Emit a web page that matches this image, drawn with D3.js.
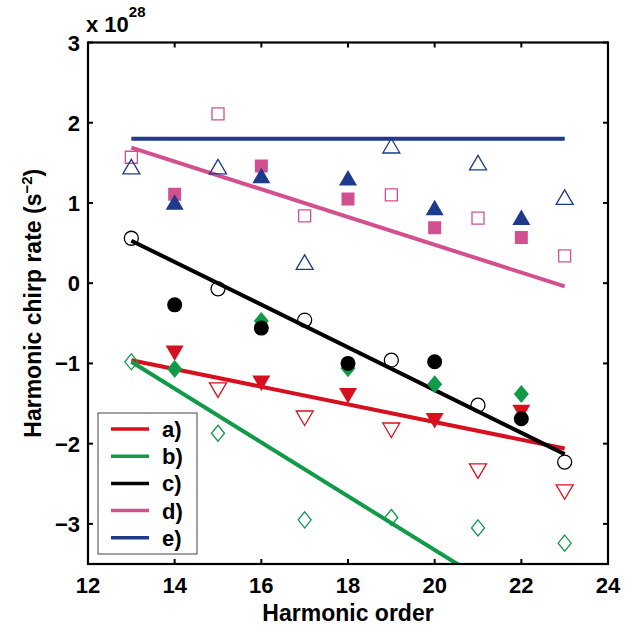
<!DOCTYPE html>
<html><head><meta charset="utf-8">
<script src="https://cdn.jsdelivr.net/npm/d3@7"></script>
<style>body{margin:0;background:#fff}svg{display:block;font-family:"Liberation Sans",Arial,Helvetica,sans-serif;font-weight:bold}</style>
</head><body><svg id="c" width="641" height="628"></svg>
<script>
// ---- data ----
const evenH = [14, 16, 18, 20, 22];
const oddH = [13, 15, 17, 19, 21, 23];
const lineX = [13, 23];
const xTicks = [12, 14, 16, 18, 20, 22, 24];
const yTicks = [-3, -2, -1, 0, 1, 2, 3];
const seriesNames = ["a)", "b)", "c)", "d)", "e)"];
const seriesColors = ["#d7101f", "#119a48", "#000000", "#d2508f", "#1d3a8c"];
const seriesShapes = ["down", "diamond", "circle", "square", "up"];
// filled markers at even harmonics (units of 1e28 s^-2)
const aFilled = [-0.87, -1.245, -1.40, -1.71, -1.61];
const bFilled = [-1.07, -0.47, -1.06, -1.26, -1.38];
const cFilled = [-0.27, -0.56, -1.00, -0.98, -1.69];
const dFilled = [1.11, 1.46, 1.05, 0.69, 0.57];
const eFilled = [1.01, 1.34, 1.31, 0.94, 0.82];
// open markers at odd harmonics
const aOpen = [null, -1.33, -1.68, -1.83, -2.34, -2.60];
const bOpen = [-0.98, -1.87, -2.95, -2.92, -3.05, -3.24];
const cOpen = [0.56, -0.07, -0.46, -0.96, -1.52, -2.23];
const dOpen = [1.57, 2.11, 0.84, 1.10, 0.81, 0.34];
const eOpen = [1.45, 1.45, 0.26, 1.71, 1.50, 1.07];
// fitted lines (value at harmonic 13 and 23)
const aLine = [-0.96, -2.06];
const bLine = [-0.98, -4.33];
const cLine = [0.53, -2.13];
const dLine = [1.69, -0.04];
const eLine = [1.80, 1.80];

const filled = [aFilled, bFilled, cFilled, dFilled, eFilled];
const open = [aOpen, bOpen, cOpen, dOpen, eOpen];
const lines = [aLine, bLine, cLine, dLine, eLine];

// ---- layout ----
const L = 88, R = 608, T = 42.5, B = 564;
const svg = d3.select("#c");
const x = d3.scaleLinear().domain([12, 24]).range([L, R]);
const y = d3.scaleLinear().domain([-3.5, 3]).range([B, T]);

svg.append("defs").append("clipPath").attr("id", "clip")
  .append("rect").attr("x", L).attr("y", T).attr("width", R - L).attr("height", B - T);

function shapePath(kind, filledM) {
  switch (kind) {
    case "up": return filledM ? "M0,-8L9,7.5L-9,7.5Z" : "M0,-7.5L8.5,7L-8.5,7Z";
    case "down": return filledM ? "M0,8L9,-7.5L-9,-7.5Z" : "M0,7.5L8.5,-7L-8.5,-7Z";
    case "diamond": return filledM ? "M0,-9L7.5,0L0,9L-7.5,0Z" : "M0,-8L6.5,0L0,8L-6.5,0Z";
    case "square": return filledM ? "M-6.5,-6.5H6.5V6.5H-6.5Z" : "M-6,-6H6V6H-6Z";
    case "circle": return filledM ? "M7.5,0A7.5,7.5 0 1,1 -7.5,0A7.5,7.5 0 1,1 7.5,0Z" : "M7,0A7,7 0 1,1 -7,0A7,7 0 1,1 7,0Z";
  }
}

const plot = svg.append("g").attr("clip-path", "url(#clip)");
const lineGen = d3.line().x(d => x(d[0])).y(d => y(d[1]));
lines.forEach((ln, i) => {
  plot.append("path").datum(lineX.map((h, k) => [h, ln[k]]))
    .attr("d", lineGen).attr("fill", "none")
    .attr("stroke", seriesColors[i]).attr("stroke-width", 4);
});
seriesNames.forEach((n, i) => {
  const g = plot.append("g");
  g.selectAll(".o").data(oddH.map((h, k) => [h, open[i][k]]).filter(d => d[1] !== null))
    .join("path").attr("transform", d => `translate(${x(d[0])},${y(d[1])})`)
    .attr("d", shapePath(seriesShapes[i], false)).attr("fill", "none")
    .attr("stroke", seriesColors[i]).attr("stroke-width", 1.3);
  g.selectAll(".f").data(evenH.map((h, k) => [h, filled[i][k]]))
    .join("path").attr("transform", d => `translate(${x(d[0])},${y(d[1])})`)
    .attr("d", shapePath(seriesShapes[i], true)).attr("fill", seriesColors[i])
    .attr("stroke", "none");
});

// ---- axes ----
const ax = svg.append("g");
ax.append("rect").attr("x", L).attr("y", T).attr("width", R - L).attr("height", B - T)
  .attr("fill", "none").attr("stroke", "#000").attr("stroke-width", 2.2);
xTicks.forEach(t => {
  ax.append("line").attr("x1", x(t)).attr("x2", x(t)).attr("y1", B).attr("y2", B - 5).attr("stroke", "#000").attr("stroke-width", 2);
  ax.append("line").attr("x1", x(t)).attr("x2", x(t)).attr("y1", T).attr("y2", T + 5).attr("stroke", "#000").attr("stroke-width", 2);
  ax.append("text").attr("x", x(t)).attr("y", 593).attr("text-anchor", "middle")
    .attr("font-size", 22).text(t);
});
yTicks.forEach(t => {
  ax.append("line").attr("x1", L).attr("x2", L + 5).attr("y1", y(t)).attr("y2", y(t)).attr("stroke", "#000").attr("stroke-width", 2);
  ax.append("line").attr("x1", R).attr("x2", R - 5).attr("y1", y(t)).attr("y2", y(t)).attr("stroke", "#000").attr("stroke-width", 2);
  ax.append("text").attr("x", 80).attr("y", y(t) + 8).attr("text-anchor", "end")
    .attr("font-size", 22).text(t < 0 ? "\u2212" + Math.abs(t) : t);
});
// exponent
const ex = svg.append("text").attr("x", 86).attr("y", 32).attr("font-size", 22);
ex.append("tspan").text("x 10");
ex.append("tspan").attr("dy", -15).attr("font-size", 15).text("28");

// axis labels
svg.append("text").attr("x", (L + R) / 2).attr("y", 621).attr("text-anchor", "middle")
  .attr("font-size", 23).text("Harmonic order");
const yl = svg.append("text").attr("transform", `translate(41,${(T + B) / 2}) rotate(-90)`)
  .attr("text-anchor", "middle").attr("font-size", 23);
yl.append("tspan").text("Harmonic chirp rate (s");
yl.append("tspan").attr("dy", -9).attr("font-size", 15).text("\u22122");
yl.append("tspan").attr("dy", 9).text(")");

// ---- legend ----
const lg = svg.append("g");
lg.append("rect").attr("x", 98).attr("y", 413).attr("width", 99).attr("height", 141)
  .attr("fill", "#fff").attr("stroke", "#444").attr("stroke-width", 1);
seriesNames.forEach((n, i) => {
  const yy = 429 + i * 27.2;
  lg.append("line").attr("x1", 111).attr("x2", 149).attr("y1", yy).attr("y2", yy)
    .attr("stroke", seriesColors[i]).attr("stroke-width", 3.5);
  lg.append("text").attr("x", 162).attr("y", yy + 8).attr("font-size", 22).text(n);
});
</script></body></html>
